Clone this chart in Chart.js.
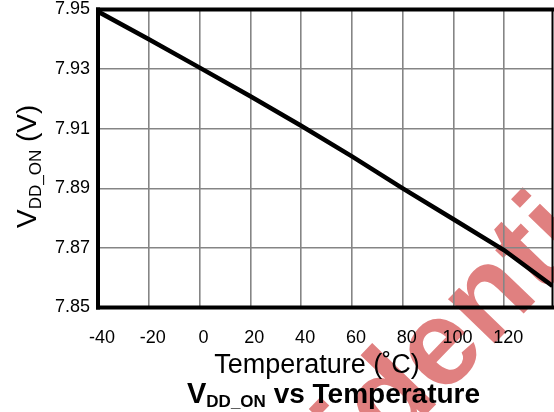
<!DOCTYPE html>
<html>
<head>
<meta charset="utf-8">
<script src="https://cdn.jsdelivr.net/npm/chart.js@4.4.1/dist/chart.umd.min.js"></script>
<style>
html,body{margin:0;padding:0;background:#fff;}
#wrap{width:554px;height:412px;}
</style>
</head>
<body>
<div id="wrap"><canvas id="c" width="554" height="412"></canvas></div>
<script>
// ---- data ----
const temperatures = [-40, -20, 0, 20, 40, 60, 80, 100, 120, 139];
const vddOn = [7.9493, 7.9400, 7.9305, 7.9209, 7.9110, 7.9007, 7.8900, 7.8796, 7.8692, 7.8572];
const xTicks = [-40, -20, 0, 20, 40, 60, 80, 100, 120];
const yTicks = [7.85, 7.87, 7.89, 7.91, 7.93, 7.95];
const xRange = [-40, 139];
const yRange = [7.85, 7.95];

const FONT = '"Liberation Sans", Arial, sans-serif';

const decor = {
  id: 'decor',
  beforeDraw(chart) {
    const ctx = chart.ctx;
    ctx.save();
    ctx.fillStyle = '#fff';
    ctx.fillRect(0, 0, chart.width, chart.height);
    // watermark
    const size = 122;
    ctx.font = 'bold ' + size + 'px ' + FONT;
    const th = -46 * Math.PI / 180;
    const xi = ctx.measureText('Confident').width + ctx.measureText('i').width / 2;
    const yi = -0.645 * size;
    const tx = 524, ty = 200;
    const ox = tx - (xi * Math.cos(th) - yi * Math.sin(th));
    const oy = ty - (xi * Math.sin(th) + yi * Math.cos(th));
    ctx.translate(ox, oy);
    ctx.rotate(th);
    ctx.fillStyle = 'rgb(224,128,128)';
    ctx.textBaseline = 'alphabetic';
    ctx.textAlign = 'left';
    ctx.fillText('Confidential', 0, 0);
    ctx.restore();
  },
  afterDraw(chart) {
    const ctx = chart.ctx;
    const a = chart.chartArea;
    ctx.save();
    ctx.strokeStyle = '#000';
    ctx.lineCap = 'square';
    // frame
    ctx.lineWidth = 4;
    ctx.beginPath(); ctx.moveTo(a.left, a.top); ctx.lineTo(a.right, a.top); ctx.stroke();
    ctx.beginPath(); ctx.moveTo(a.left, a.top); ctx.lineTo(a.left, a.bottom); ctx.stroke();
    ctx.beginPath(); ctx.moveTo(a.left, a.bottom); ctx.lineTo(a.right, a.bottom); ctx.stroke();
    ctx.lineWidth = 2;
    ctx.beginPath(); ctx.moveTo(a.right, a.top); ctx.lineTo(a.right, a.bottom); ctx.stroke();

    ctx.fillStyle = '#000';
    // x axis title
    ctx.font = '27px ' + FONT;
    ctx.textAlign = 'center';
    ctx.textBaseline = 'alphabetic';
    ctx.fillText('Temperature (\u02DAC)', 317, 373);

    // main title with subscript
    ctx.textAlign = 'left';
    let x = 187;
    ctx.font = 'bold 29px ' + FONT;
    ctx.fillText('V', x, 403);
    x += ctx.measureText('V').width;
    ctx.font = 'bold 17px ' + FONT;
    ctx.fillText('DD_ON', x, 407);
    x += ctx.measureText('DD_ON').width;
    ctx.font = 'bold 28px ' + FONT;
    ctx.fillText(' vs Temperature', x, 403);

    // y axis title (rotated)
    ctx.translate(36, 228);
    ctx.rotate(-Math.PI / 2);
    let y = 0;
    ctx.font = '28px ' + FONT;
    ctx.fillText('V', y, 0);
    y += ctx.measureText('V').width;
    ctx.font = '17px ' + FONT;
    ctx.fillText('DD_ON', y, 5);
    y += ctx.measureText('DD_ON').width;
    ctx.font = '28px ' + FONT;
    ctx.fillText(' (V)', y, 0);
    ctx.restore();
  }
};

new Chart(document.getElementById('c'), {
  type: 'line',
  data: {
    datasets: [{
      data: temperatures.map((t, i) => ({x: t, y: vddOn[i]})),
      borderColor: '#000',
      borderWidth: 4.5,
      pointRadius: 0,
      tension: 0,
      fill: false
    }]
  },
  options: {
    responsive: false,
    animation: false,
    events: [],
    layout: { padding: { left: 0, right: 1.5, top: 9.5, bottom: 0 } },
    plugins: { legend: { display: false }, title: { display: false }, tooltip: { enabled: false } },
    scales: {
      x: {
        type: 'linear',
        min: xRange[0], max: xRange[1],
        afterBuildTicks(s) { s.ticks = xTicks.map(v => ({value: v})); },
        afterFit(s) { s.height = 104.5; s.paddingLeft = 0; s.paddingRight = 0; },
        grid: { color: '#858585', lineWidth: 1.6, drawTicks: false },
        border: { display: false },
        ticks: {
          padding: 20,
          labelOffset: 4,
          color: '#000',
          font: { family: FONT, size: 18 },
          maxRotation: 0,
          autoSkip: false,
          callback: v => String(v)
        }
      },
      y: {
        type: 'linear',
        min: yRange[0], max: yRange[1],
        afterBuildTicks(s) { s.ticks = yTicks.map(v => ({value: v})); },
        afterFit(s) { s.width = 98; s.paddingTop = 0; s.paddingBottom = 0; },
        grid: { color: '#858585', lineWidth: 1.6, drawTicks: false },
        border: { display: false },
        ticks: {
          padding: 8,
          color: '#000',
          font: { family: FONT, size: 18 },
          autoSkip: false,
          callback: v => v.toFixed(2)
        }
      }
    }
  },
  plugins: [decor]
});
</script>
</body>
</html>
